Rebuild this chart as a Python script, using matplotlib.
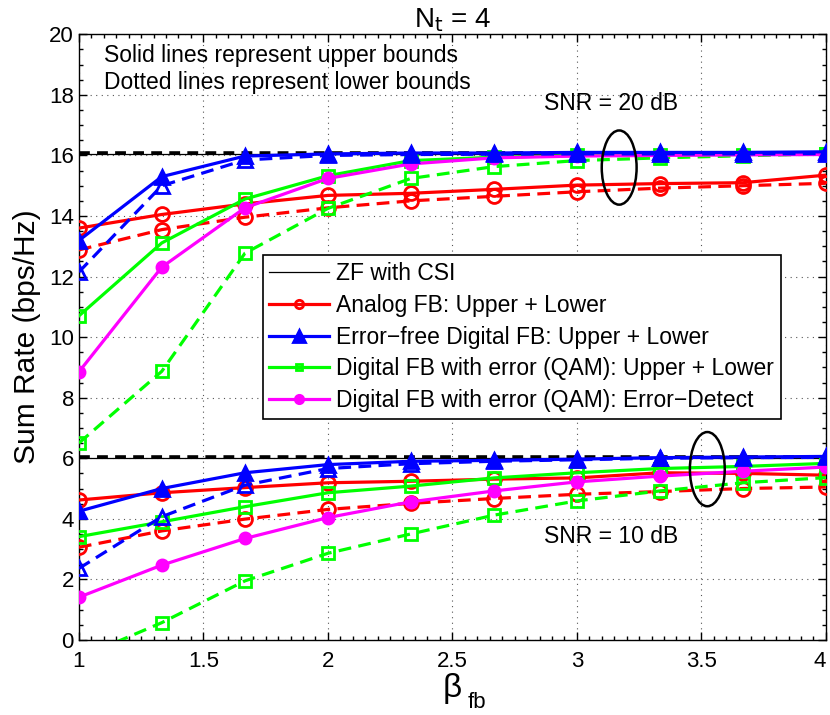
import matplotlib
matplotlib.use("Agg")
import matplotlib.pyplot as plt
from matplotlib.patches import Ellipse
from matplotlib.ticker import MultipleLocator

plt.rcParams['font.family'] = ['Liberation Sans', 'DejaVu Sans']

beta = [1.0, 1.333, 1.667, 2.0, 2.333, 2.667, 3.0, 3.333, 3.667, 4.0]

# SNR = 20 dB
zf_20 = [16.05] * 10
zf_lb_20 = [16.08] * 10
analog_up_20 = [13.6, 14.05, 14.4, 14.68, 14.75, 14.88, 15.02, 15.07, 15.1, 15.35]
analog_lo_20 = [12.88, 13.55, 13.96, 14.27, 14.5, 14.65, 14.8, 14.92, 15.0, 15.08]
digital_up_20 = [13.19, 15.3, 15.98, 16.05, 16.08, 16.08, 16.1, 16.1, 16.1, 16.12]
digital_lo_20 = [12.15, 15.0, 15.85, 16.0, 16.03, 16.04, 16.05, 16.05, 16.05, 16.06]
qam_up_20 = [10.7, 13.11, 14.56, 15.33, 15.83, 15.94, 16.0, 16.02, 16.03, 16.04]
qam_lo_20 = [6.5, 8.87, 12.77, 14.25, 15.24, 15.63, 15.83, 15.92, 15.99, 16.05]
detect_20 = [8.85, 12.31, 14.27, 15.24, 15.72, 15.92, 15.98, 16.0, 16.02, 16.03]

# SNR = 10 dB
zf_10 = [6.02] * 10
zf_lb_10 = [6.04] * 10
analog_up_10 = [4.62, 4.86, 5.03, 5.19, 5.24, 5.31, 5.35, 5.52, 5.5, 5.44]
analog_lo_10 = [3.06, 3.6, 3.99, 4.31, 4.51, 4.67, 4.81, 4.9, 5.0, 5.05]
digital_up_10 = [4.25, 5.0, 5.52, 5.79, 5.9, 5.93, 5.97, 6.02, 6.04, 6.06]
digital_lo_10 = [2.36, 4.07, 5.11, 5.66, 5.82, 5.9, 5.95, 6.0, 6.02, 6.03]
qam_up_10 = [3.41, 3.9, 4.4, 4.86, 5.08, 5.35, 5.52, 5.66, 5.73, 5.83]
qam_lo_10 = [-0.6, 0.57, 1.95, 2.86, 3.5, 4.12, 4.59, 4.92, 5.19, 5.36]
detect_10 = [1.41, 2.47, 3.35, 4.04, 4.56, 4.92, 5.22, 5.41, 5.57, 5.71]

labels = ['ZF with CSI', 'Analog FB: Upper + Lower', 'Error\u2212free Digital FB: Upper + Lower',
          'Digital FB with error (QAM): Upper + Lower', 'Digital FB with error (QAM): Error\u2212Detect']
xtick_vals = [1, 1.5, 2, 2.5, 3, 3.5, 4]
xtick_labels = ['1', '1.5', '2', '2.5', '3', '3.5', '4']

fig = plt.figure(figsize=(8.30, 7.15), dpi=100)
ax = fig.add_axes([0.095, 0.105, 0.9, 0.847])

LW = 2.3
dash = (0, (4, 2.3))
R, B, G, M = '#ff0000', '#0000ff', '#00ff00', '#ff00ff'

for zf, zflb, au, al, du, dl, qu, ql, de in [
        (zf_20, zf_lb_20, analog_up_20, analog_lo_20, digital_up_20, digital_lo_20, qam_up_20, qam_lo_20, detect_20),
        (zf_10, zf_lb_10, analog_up_10, analog_lo_10, digital_up_10, digital_lo_10, qam_up_10, qam_lo_10, detect_10)]:
    ax.plot(beta, zflb, color='black', lw=2.6, linestyle=(0, (3, 2)), zorder=2)
    ax.plot(beta, zf, color='black', lw=0.9, zorder=2)
    ax.plot(beta, au, color=R, lw=LW, marker='o', ms=10, mfc='none', mew=2, zorder=3)
    ax.plot(beta, al, color=R, lw=LW, ls=dash, marker='o', ms=10, mfc='none', mew=2, zorder=3)
    ax.plot(beta, qu, color=G, lw=LW, marker='s', ms=8, mfc='none', mew=2, zorder=4)
    ax.plot(beta, ql, color=G, lw=LW, ls=dash, marker='s', ms=8, mfc='none', mew=2, zorder=4)
    ax.plot(beta, de, color=M, lw=LW, marker='o', ms=8, mfc=M, mew=2, zorder=5)
    ax.plot(beta, dl, color=B, lw=LW, ls=dash, marker='^', ms=10, mfc='none', mew=2, zorder=6)
    ax.plot(beta, du, color=B, lw=LW, marker='^', ms=10, mfc=B, mew=2, zorder=6)

# legend proxies
h0, = ax.plot([], [], color='black', lw=0.9)
h1, = ax.plot([], [], color=R, lw=LW, marker='o', ms=6, mfc='none', mew=2)
h2, = ax.plot([], [], color=B, lw=LW, marker='^', ms=8, mfc=B, mew=2)
h3, = ax.plot([], [], color=G, lw=LW, marker='s', ms=5, mfc='none', mew=2)
h4, = ax.plot([], [], color=M, lw=LW, marker='o', ms=6, mfc=M, mew=2)
leg = ax.legend([h0, h1, h2, h3, h4], labels, loc='upper left', bbox_to_anchor=(0.246, 0.635),
                fontsize=16.5, frameon=True, fancybox=False, framealpha=1, edgecolor='black',
                handlelength=2.6, handletextpad=0.3, labelspacing=0.38, borderpad=0.3,
                borderaxespad=0)
leg.get_frame().set_linewidth(1.2)
leg.set_zorder(10)

ax.add_patch(Ellipse((3.17, 15.6), 0.14, 2.45, fill=False, ec='black', lw=1.8, zorder=8))
ax.add_patch(Ellipse((3.524, 5.64), 0.14, 2.45, fill=False, ec='black', lw=1.8, zorder=8))

ax.text(2.87, 17.72, 'SNR = 20 dB', fontsize=16.5, va='center', ha='left')
ax.text(2.87, 3.43, 'SNR = 10 dB', fontsize=16.5, va='center', ha='left')
ax.text(1.1, 19.3, 'Solid lines represent upper bounds', fontsize=16.5, va='center', ha='left')
ax.text(1.1, 18.4, 'Dotted lines represent lower bounds', fontsize=16.5, va='center', ha='left')

ax.set_xlim(1, 4)
ax.set_ylim(0, 20)
ax.set_xticks(xtick_vals)
ax.set_xticklabels(xtick_labels)
ax.yaxis.set_major_locator(MultipleLocator(2))
ax.xaxis.set_minor_locator(MultipleLocator(0.05))
ax.yaxis.set_minor_locator(MultipleLocator(0.5))
ax.tick_params(which='both', direction='in', top=True, right=True, labelsize=16, width=1)
ax.tick_params(which='major', length=6)
ax.tick_params(which='minor', length=3)
ax.tick_params(axis='x', pad=8)
ax.get_xticklabels()[-1].set_ha('right')
ax.grid(True, which='major', linestyle=(0, (1, 4)), color='#555555', lw=0.8)
for s in ax.spines.values():
    s.set_linewidth(1)

ax.set_ylabel('Sum Rate (bps/Hz)', fontsize=21.5, labelpad=6)
ax.set_title(r'N$_\mathrm{t}$ = 4', fontsize=20, pad=4)
fig.text(452 / 830, 1 - 688 / 715, '\u03b2', fontsize=24, ha='center', va='center')
fig.text(468 / 830, 1 - 702 / 715, 'fb', fontsize=16, ha='left', va='center')

fig.savefig('out.png', dpi=100)
